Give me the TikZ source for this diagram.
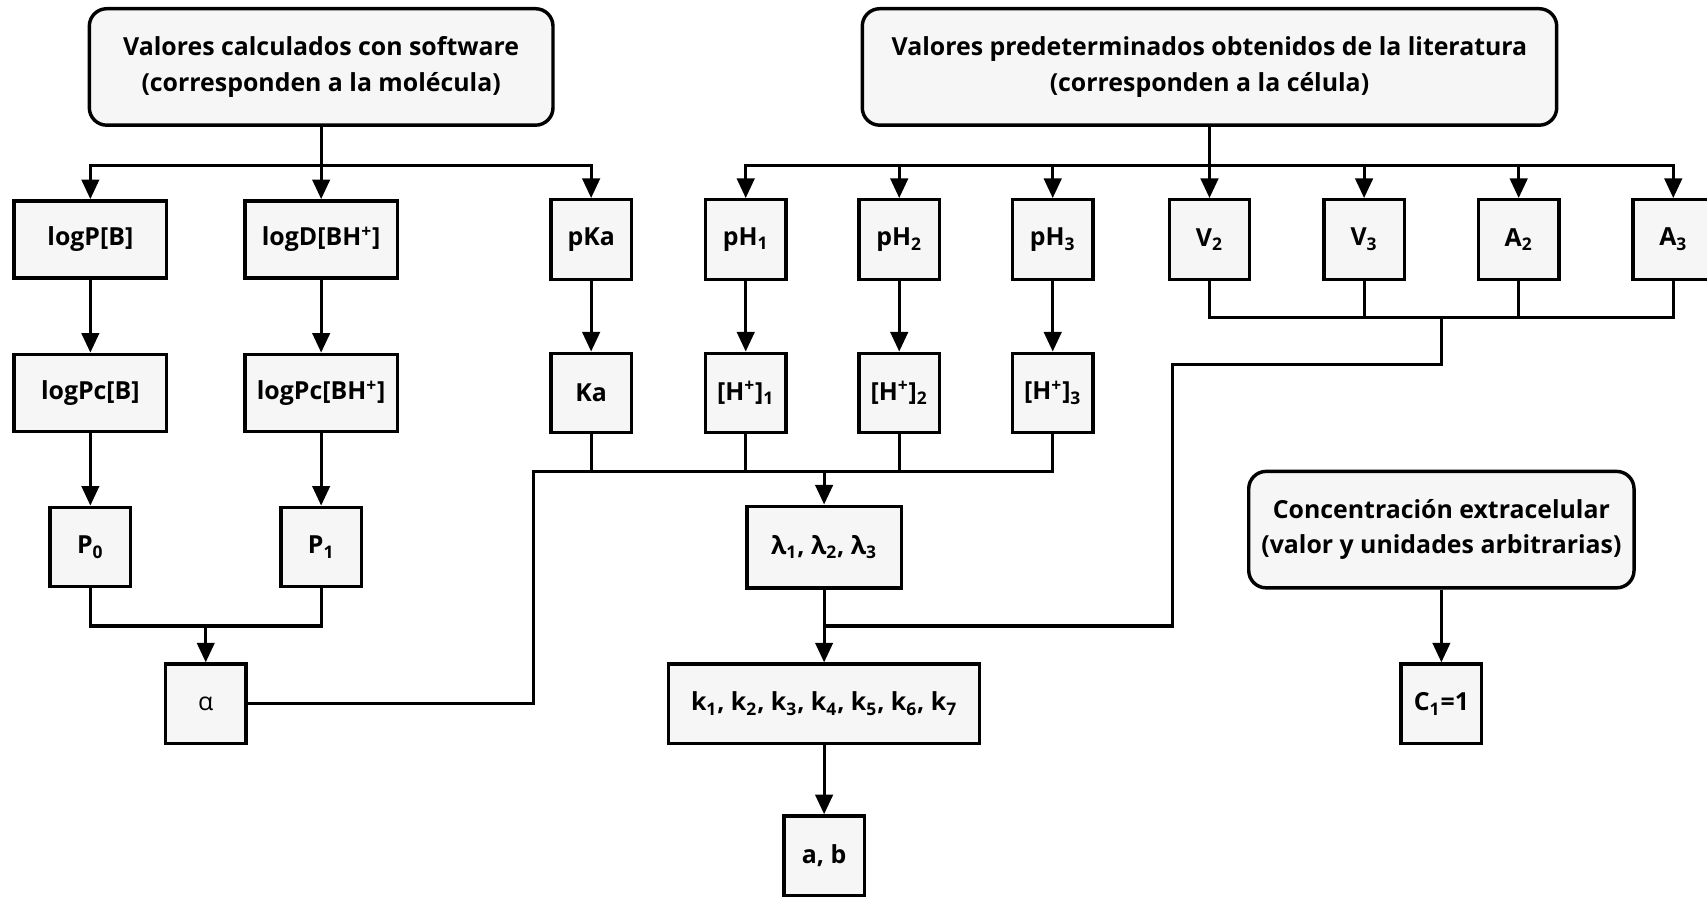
\documentclass[tikz,border=0pt]{standalone}
\usepackage{fontspec}
\setmainfont{Open Sans}
\usetikzlibrary{arrows.meta,positioning}
\newcommand{\subn}[1]{\textsubscript{#1}}
\newcommand{\supp}{\textsuperscript{+}}

\begin{document}
\begin{tikzpicture}[x=0.02cm, y=-0.02cm,
  every node/.style={font=\fontsize{13}{18.5}\selectfont\bfseries, align=center},
  box/.style={draw, line width=1.8pt, fill=gray!7, minimum height=1.42cm, inner sep=2pt},
  wbox/.style={box, minimum width=2.8cm},
  sbox/.style={box, minimum width=1.48cm, minimum height=1.46cm},
  tbox/.style={box, rounded corners=0.32cm, minimum height=2.14cm},
  conn/.style={line width=1.6pt},
  arr/.style={conn, -{Triangle[length=0.36cm, width=0.32cm]}}]
\useasboundingbox (0,0) rectangle (1568,824);

% Source boxes
\node[tbox, minimum width=8.52cm] (mol) at (295,61.5) {Valores calculados con software\\(corresponden a la molécula)};
\node[tbox, minimum width=12.76cm] (cel) at (1111,61.5) {Valores predeterminados obtenidos de la literatura\\(corresponden a la célula)};

% First row
\node[wbox] (logP) at (83,220) {logP[B]};
\node[wbox] (logD) at (295,220) {logD[BH\supp]};
\node[sbox] (pKa) at (543,220) {pKa};
\node[sbox] (pH1) at (685,220) {pH\subn{1}};
\node[sbox] (pH2) at (826,220) {pH\subn{2}};
\node[sbox] (pH3) at (967,220) {pH\subn{3}};
\node[sbox] (V2) at (1111,220) {V\subn{2}};
\node[sbox] (V3) at (1253,220) {V\subn{3}};
\node[sbox] (A2) at (1395,220) {A\subn{2}};
\node[sbox] (A3) at (1537,220) {A\subn{3}};

% Second row
\node[wbox] (logPc) at (83,361) {logPc[B]};
\node[wbox] (logPcBH) at (295,361) {logPc[BH\supp]};
\node[sbox] (Ka) at (543,361) {Ka};
\node[sbox] (H1) at (685,361) {[H\supp]\subn{1}};
\node[sbox] (H2) at (826,361) {[H\supp]\subn{2}};
\node[sbox] (H3) at (967,361) {[H\supp]\subn{3}};

% Third row
\node[sbox] (P0) at (83,502.5) {P\subn{0}};
\node[sbox] (P1) at (295,502.5) {P\subn{1}};
\node[box, minimum width=2.84cm, minimum height=1.5cm] (lam) at (757,502.5) {λ\subn{1}, λ\subn{2}, λ\subn{3}};
\node[tbox, minimum width=7.08cm] (conc) at (1324,486.5) {Concentración extracelular\\(valor y unidades arbitrarias)};

% Results
\node[sbox] (alpha) at (189,646.5) {\mdseries α};
\node[box, minimum width=5.72cm, minimum height=1.46cm] (kk) at (757,646.5) {k\subn{1}, k\subn{2}, k\subn{3}, k\subn{4}, k\subn{5}, k\subn{6}, k\subn{7}};
\node[sbox] (C1) at (1324,646.5) {C\subn{1}=1};
\node[sbox] (ab) at (757,786) {a, b};

% Junctions
\coordinate (jm) at (295,152);
\coordinate (jc) at (1111,152);
\coordinate (jp) at (189,575);
\coordinate (ja) at (490,433);
\coordinate (jl) at (757,433);
\coordinate (jv) at (1324,292);
\coordinate (jt) at (1077,335);
\coordinate (jk) at (757,575);

% Branches from the source boxes
\draw[conn] (mol) -- (jm);
\foreach \n in {logP,logD,pKa} \draw[arr] (jm) -| (\n);
\draw[conn] (cel) -- (jc);
\foreach \n in {pH1,pH2,pH3,V2,V3,A2,A3} \draw[arr] (jc) -| (\n);

% Columns
\draw[arr] (logP) -- (logPc);
\draw[arr] (logD) -- (logPcBH);
\draw[arr] (pKa) -- (Ka);
\foreach \i in {1,2,3} \draw[arr] (pH\i) -- (H\i);
\draw[arr] (logPc) -- (P0);
\draw[arr] (logPcBH) -- (P1);

% Joins
\draw[conn] (P0) |- (jp) -| (P1);
\draw[arr] (jp) -- (alpha);
\draw[conn] (alpha) -| (ja) -| (H3);
\foreach \n in {Ka,H1,H2} \draw[conn] (\n) -- (\n |- jl);
\draw[arr] (jl) -- (lam);
\draw[conn] (V2) |- (jv) -| (A3);
\foreach \n in {V3,A2} \draw[conn] (\n) -- (\n |- jv);
\draw[conn] (jv) |- (jt) |- (jk);
\draw[arr] (lam) -- (kk);
\draw[arr] (kk) -- (ab);
\draw[arr] (conc) -- (C1);
\end{tikzpicture}
\end{document}
